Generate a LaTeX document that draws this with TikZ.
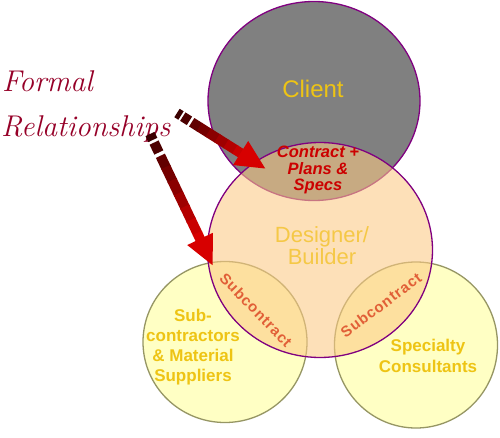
\documentclass[tikz,border=0pt]{standalone}
\usepackage{fontspec}
\usepackage{xcolor}
\usepackage{tikz}
\usetikzlibrary{shapes.geometric, arrows.meta, calc}
\newfontfamily\arialfont{Liberation Sans}
\definecolor{ringpurple}{RGB}{128, 0, 128}
\definecolor{clientgray}{RGB}{128, 128, 128}
\definecolor{builderpeach}{RGB}{252, 202, 133}
\definecolor{subyellow}{RGB}{255, 255, 196}
\definecolor{subolive}{RGB}{150, 150, 100}
\definecolor{goldtext}{RGB}{238, 196, 20}
\definecolor{paletext}{RGB}{245, 200, 70}
\definecolor{contractred}{RGB}{204, 0, 0}
\definecolor{subred}{RGB}{225, 95, 55}
\definecolor{formalred}{RGB}{150, 0, 40}
\definecolor{arrowred}{RGB}{215, 0, 0}
\definecolor{arrowdark}{RGB}{55, 0, 0}

\tikzset{
    ring/.style={ellipse, inner sep=0pt, line width=1.3pt},
    shaft/.style={line width=10pt},
    label/.style={text=goldtext, font=\arialfont\bfseries\fontsize{17}{20}\selectfont, align=center},
    subtext/.style={text=subred, font=\arialfont\bfseries\fontsize{15}{18}\selectfont\addfontfeature{LetterSpace=6}},
    formaltext/.style={text=formalred, font=\fontsize{30}{45}\selectfont\itshape, inner sep=0pt, anchor=base west}
}

% thick arrow, dark at the tail and red at the head
\newcommand\fatarrow[2]{%
    \foreach \s/\e in {0/0.045, 0.065/0.14, 0.165/0.26, 0.25/0.36, 0.35/0.46, 0.45/0.56, 0.55/0.66, 0.65/0.76}{%
        \pgfmathtruncatemacro\mix{(\s+\e)/2*130}
        \draw[shaft, arrowred!\mix!arrowdark] ($(#1)!\s!(#2)$) -- ($(#1)!\e!(#2)$);
    }
    \draw[shaft, arrowred, -{Triangle[length=30pt, width=26pt]}] ($(#1)!0.75!(#2)$) -- (#2);
}

\begin{document}
\begin{tikzpicture}[x=1pt, y=-1pt]
    \useasboundingbox[fill=white] (0,0) rectangle (500,438);

    % the four rings
    \node[ring, fill=subyellow, draw=subolive, minimum width=164pt, minimum height=161pt] (subs) at (225,342) {};
    \node[ring, fill=subyellow, draw=subolive, minimum width=163pt, minimum height=166pt] (consult) at (416,345) {};
    \node[ring, fill=clientgray, draw=ringpurple, minimum width=212pt, minimum height=199pt] (client) at (314,101) {};
    \node[ring, fill=builderpeach, fill opacity=0.58, draw=ringpurple, minimum width=225pt, minimum height=215pt] (builder) at (320,250) {};

    % texts (multi-line nodes sit on the baseline of their last line)
    \node[text=goldtext, font=\arialfont\fontsize{24}{26}\selectfont, anchor=base] (clientname) at (313,98) {Client};
    \node[text=paletext, font=\arialfont\fontsize{22}{22}\selectfont, align=center, anchor=base] (buildername) at (322,264) {Designer/\\Builder};
    \node[text=contractred, font=\arialfont\bfseries\itshape\fontsize{16.5}{16.5}\selectfont, align=center, anchor=base] (contract) at (318,191) {Contract +\\Plans \&\\Specs};
    \node[label, anchor=base] (subsname) at (193,381) {Sub-\\contractors\\\& Material\\Suppliers};
    \node[label, font=\arialfont\bfseries\fontsize{17}{21}\selectfont, anchor=base] (consultname) at (428,372) {Specialty\\Consultants};
    \node[subtext, rotate=-46] (subleft) at (256,310) {Subcontract};
    \node[subtext, rotate=37] (subright) at (381,305) {Subcontract};

    \node[formaltext] (formal) at (2,92) {Formal};
    \node[formaltext] (relships) at (1,137) {Relationships};

    % arrows
    \coordinate (tailA) at (177,113);
    \coordinate (tipA) at (266,169);
    \coordinate (tailB) at (150,134);
    \coordinate (tipB) at (213,266);
    \fatarrow{tailA}{tipA}
    \fatarrow{tailB}{tipB}
\end{tikzpicture}
\end{document}
